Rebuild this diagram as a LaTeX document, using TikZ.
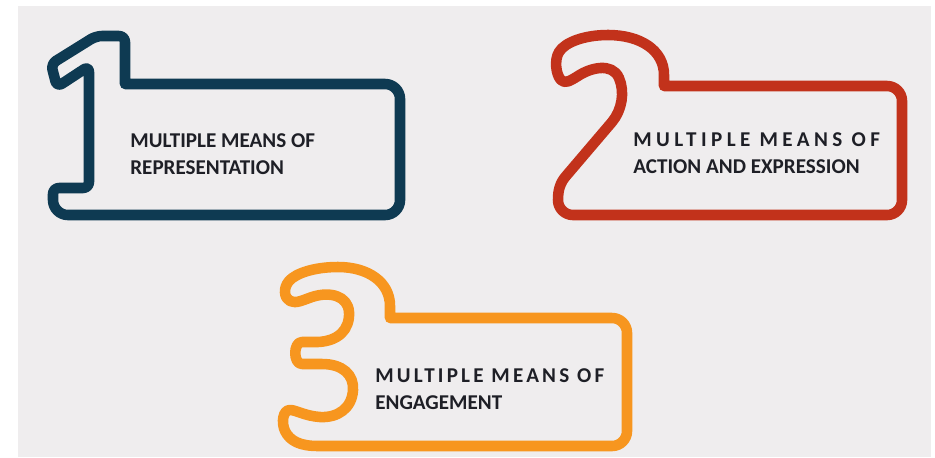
\documentclass[tikz,border=0pt]{standalone}
\usepackage{fontspec}
\setmainfont{Carlito}
\usetikzlibrary{positioning}
\definecolor{pagegray}{HTML}{EFEDEE}
\definecolor{onenavy}{HTML}{0E3A52}
\definecolor{twored}{HTML}{C2321B}
\definecolor{threeorange}{HTML}{F7961F}
\definecolor{captext}{HTML}{1E1F26}
\tikzset{
  digit/.style={line width=6pt, line join=round},
  caption/.style={anchor=west, align=left, inner sep=0pt, text=captext,
    font=\bfseries\fontsize{12}{15.2}\selectfont}
}

\begin{document}
\begin{tikzpicture}[x=0.02cm, y=-0.02cm]
  \useasboundingbox (0,0) rectangle (935,457);
  \fill[white] (0,0) rectangle (935,457);
  \fill[pagegray] (18,6) rectangle (931,457);

  % one
  \draw[digit, onenavy, rounded corners=0.3cm] (125,84) -- (400,84) -- (400,215) -- (53,215)
    [rounded corners=0.12cm] -- (53,188) -- (89,188) -- (89,66) -- (57,87) -- (51,64)
    -- (96,36) -- (125,36) [sharp corners] -- cycle;

  % two
  \draw[digit, twored] (664,75) .. controls (664,50) and (640,35) .. (608,35)
    .. controls (585,35) and (565,42) .. (559,52)
    .. controls (554,60) and (556,75) .. (561,80)
    .. controls (565,84) and (570,81) .. (578,76)
    .. controls (590,68) and (612,62) .. (619,78)
    .. controls (625,92) and (622,110) .. (612,122)
    -- (566,176) .. controls (560,183) and (558,190) .. (558,200)
    [rounded corners=0.3cm] -- (558,215) -- (902,215) -- (902,86)
    [sharp corners] -- (664,86) -- cycle;

  % three
  \draw[digit, threeorange] (390,306) .. controls (390,282) and (368,267) .. (338,267)
    .. controls (315,267) and (296,273) .. (289,281)
    .. controls (283,288) and (284,298) .. (290,301)
    .. controls (296,304) and (303,300) .. (312,297)
    .. controls (330,291) and (348,296) .. (349,312)
    .. controls (350,330) and (338,341) .. (318,342) -- (302,342)
    .. controls (293,342) and (293,364) .. (302,364) -- (322,364)
    .. controls (343,364) and (354,375) .. (353,390)
    .. controls (352,408) and (338,418) .. (320,417)
    .. controls (305,416) and (296,410) .. (290,410)
    .. controls (283,410) and (281,422) .. (285,431)
    .. controls (290,441) and (300,446) .. (318,446)
    [rounded corners=0.3cm] -- (627,446) -- (627,318)
    [sharp corners] -- (390,318) -- cycle;

  \node[caption] (rep) at (130,154) {MULTIPLE MEANS OF\\REPRESENTATION};
  \node[caption] (act) at (633,153) {{\addfontfeature{LetterSpace=21}MULTIPLE MEANS OF}\\ACTION AND EXPRESSION};
  \node[caption] (eng) at (375,389) {{\addfontfeature{LetterSpace=15}MULTIPLE MEANS OF}\\ENGAGEMENT};
\end{tikzpicture}
\end{document}
